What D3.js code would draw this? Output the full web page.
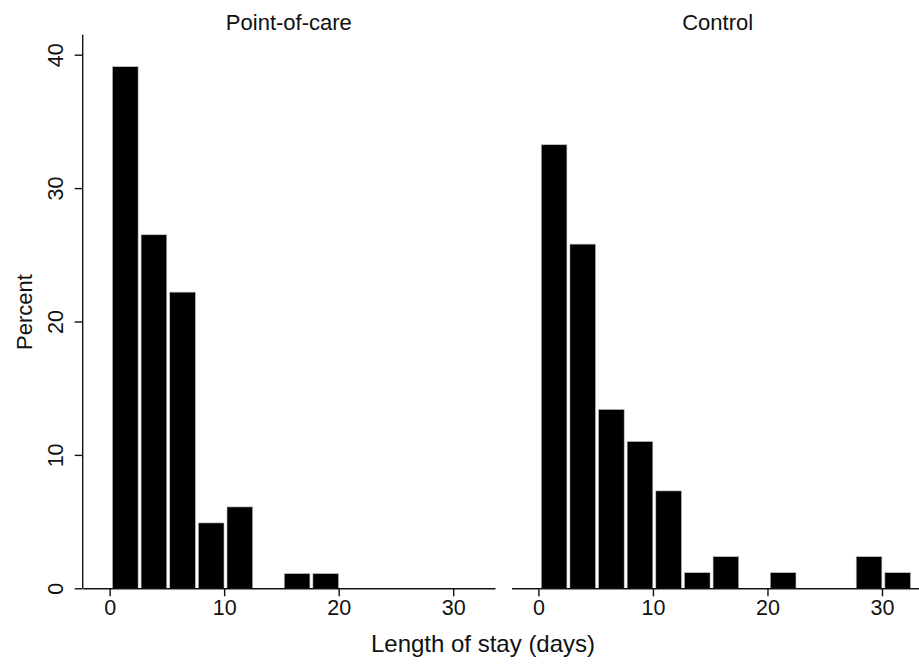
<!DOCTYPE html>
<html>
<head>
<meta charset="utf-8">
<script src="https://cdn.jsdelivr.net/npm/d3@7"></script>
<style>
  html, body { margin: 0; padding: 0; background: #fff; overflow: hidden; }
  svg { display: block; font-family: "Liberation Sans", Arial, sans-serif; }
</style>
</head>
<body>
<svg id="chart" width="919" height="666"></svg>
<script>
// Histogram bins: start at 0.25 days, 2.5 days wide
const binStart = 0.25;
const binWidth = 2.5;

const panelTitles = ["Point-of-care", "Control"];
// Percent of patients per bin
const pocPercent = [39.1, 26.5, 22.2, 4.9, 6.1, 0, 1.1, 1.1];
const controlPercent = [33.25, 25.8, 13.4, 11.0, 7.3, 1.17, 2.37, 0, 1.17, 0, 0, 2.37, 1.17];

const xTicks = [0, 10, 20, 30];
const yTicks = [0, 10, 20, 30, 40];

const svg = d3.select("#chart");

const plotTop = 54.7, plotBottom = 588.3;
const panelWidth = 412.3;
const panelLefts = [82.7, 511.5];
const ink = "#111";
const tickFont = 21.5;

const y = d3.scaleLinear().domain([0, 40]).range([plotBottom, plotTop]);

const panels = [pocPercent, controlPercent];

panels.forEach((values, i) => {
  const left = panelLefts[i];
  const x = d3.scaleLinear().domain([-2.35, 33.65]).range([left, left + panelWidth]);
  const g = svg.append("g");

  const bins = values.map((v, k) => ({
    x0: binStart + k * binWidth,
    x1: binStart + (k + 1) * binWidth,
    v
  })).filter(d => d.v > 0);

  g.selectAll("rect.bar")
    .data(bins)
    .join("rect")
    .attr("class", "bar")
    .attr("x", d => x(d.x0))
    .attr("width", d => x(d.x1) - x(d.x0) - 3)
    .attr("y", d => y(d.v))
    .attr("height", d => y(0) - y(d.v))
    .attr("fill", "#000")
    .attr("stroke", "#bbb")
    .attr("stroke-width", 0.6);

  // x axis
  const xAxis = d3.axisBottom(x).tickValues(xTicks).tickSize(8).tickPadding(3.5).tickSizeOuter(0);
  const xa = g.append("g").attr("transform", `translate(0,${plotBottom})`).call(xAxis);
  xa.select(".domain").attr("stroke", ink).attr("stroke-width", 1.4);
  xa.selectAll(".tick line").attr("stroke", ink).attr("stroke-width", 1.4);
  xa.selectAll(".tick text").attr("font-size", tickFont).attr("fill", ink)
    .attr("font-family", "Liberation Sans, Arial, sans-serif");

  // panel title
  g.append("text")
    .attr("x", left + panelWidth / 2)
    .attr("y", 30)
    .attr("text-anchor", "middle")
    .attr("font-size", 22)
    .attr("fill", ink)
    .text(panelTitles[i]);
});

// y axis on the left panel only
const yAxis = d3.axisLeft(y).tickValues(yTicks).tickSize(8).tickSizeOuter(0).tickFormat(d3.format("d"));
const ya = svg.append("g").attr("transform", `translate(${panelLefts[0]},0)`).call(yAxis);
ya.select(".domain").attr("stroke", ink).attr("stroke-width", 1.4)
  .attr("d", `M0,${plotBottom}V${y(41.5)}`);
ya.selectAll(".tick line").attr("stroke", ink).attr("stroke-width", 1.4);
ya.selectAll(".tick text")
  .attr("font-size", tickFont).attr("fill", ink)
  .attr("font-family", "Liberation Sans, Arial, sans-serif")
  .attr("x", null).attr("dy", null)
  .attr("text-anchor", "middle")
  .attr("transform", "translate(-20,0) rotate(-90)");

// axis titles
svg.append("text")
  .attr("transform", "translate(32,312) rotate(-90)")
  .attr("text-anchor", "middle")
  .attr("font-size", 22)
  .attr("fill", ink)
  .text("Percent");

svg.append("text")
  .attr("x", 483)
  .attr("y", 652)
  .attr("text-anchor", "middle")
  .attr("font-size", 24)
  .attr("fill", ink)
  .text("Length of stay (days)");
</script>
</body>
</html>
